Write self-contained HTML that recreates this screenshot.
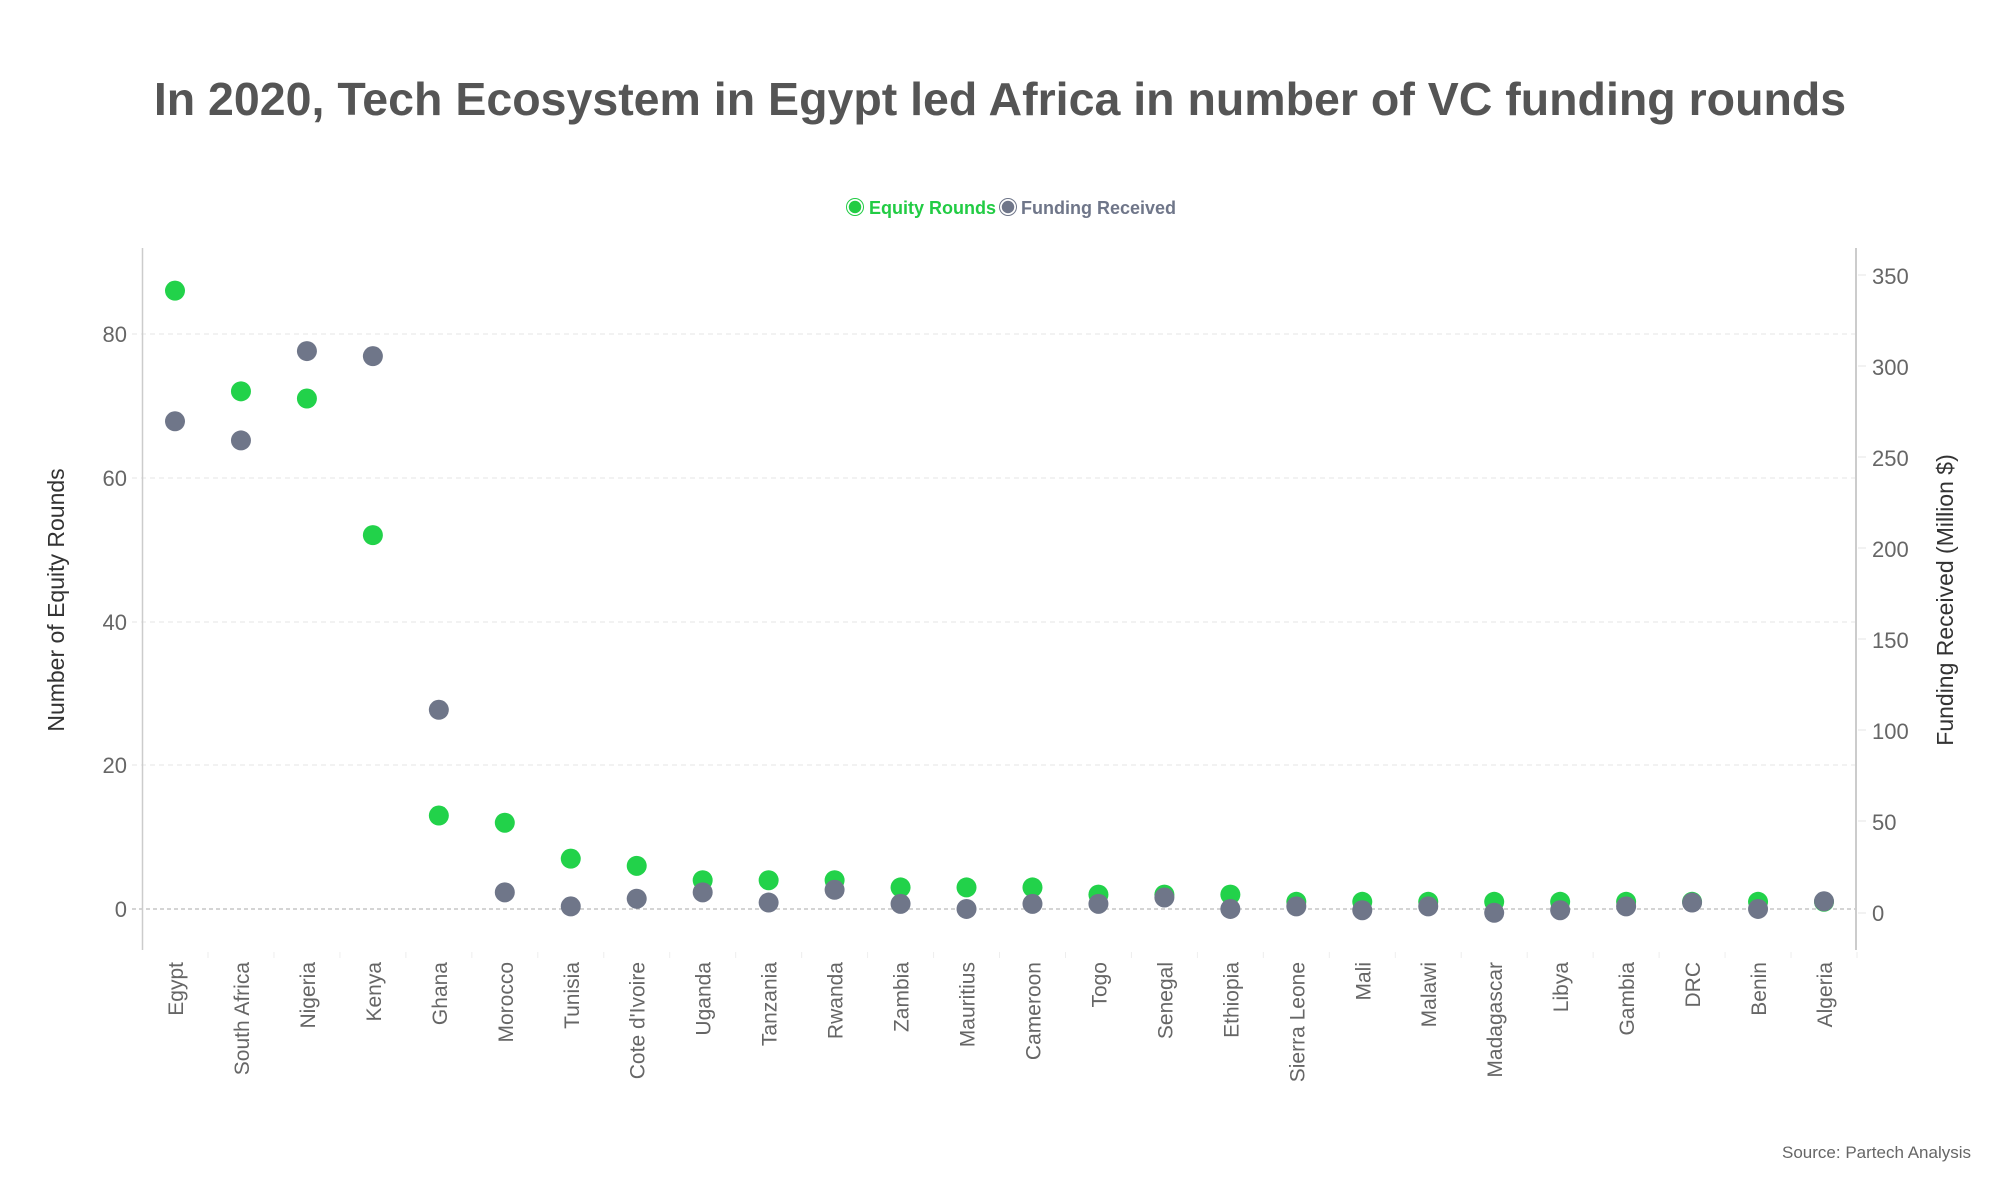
<!DOCTYPE html>
<html><head><meta charset="utf-8"><style>
html,body{margin:0;padding:0;background:#fff;}
svg{display:block;font-family:"Liberation Sans",sans-serif;}
</style></head><body>
<svg width="2000" height="1200" viewBox="0 0 2000 1200" xmlns="http://www.w3.org/2000/svg">
<text x="1000" y="115" text-anchor="middle" font-size="46.5" font-weight="bold" fill="#555">In 2020, Tech Ecosystem in Egypt led Africa in number of VC funding rounds</text>
<circle cx="855" cy="207" r="7" fill="#22cc44" stroke="#fff" stroke-width="1.5"/><circle cx="855" cy="207" r="8.5" fill="none" stroke="#22cc44" stroke-width="1"/>
<text x="869" y="214" font-size="18" font-weight="bold" fill="#22cc44">Equity Rounds</text>
<circle cx="1008" cy="207" r="7" fill="#6f7689" stroke="#fff" stroke-width="1.5"/><circle cx="1008" cy="207" r="8.5" fill="none" stroke="#6f7689" stroke-width="1"/>
<text x="1021" y="214" font-size="18" font-weight="bold" fill="#6f7689">Funding Received</text>
<g stroke="#e6e6e6" stroke-width="1" stroke-dasharray="5,4">
<line x1="132" x2="1856" y1="334" y2="334"/><line x1="132" x2="1856" y1="478" y2="478"/><line x1="132" x2="1856" y1="622" y2="622"/><line x1="132" x2="1856" y1="765" y2="765"/>
</g>
<line x1="132" x2="1856" y1="909" y2="909" stroke="#aaa" stroke-width="1" stroke-dasharray="4,3"/>
<line x1="142.5" x2="142.5" y1="248" y2="950" stroke="#ccc" stroke-width="1.5"/>
<line x1="1856" x2="1856" y1="248" y2="950" stroke="#ccc" stroke-width="2"/>
<g font-size="22" fill="#666" text-anchor="end">
<text x="127" y="342">80</text><text x="127" y="486">60</text><text x="127" y="630">40</text><text x="127" y="773">20</text><text x="127" y="917">0</text>
</g>
<g font-size="22" fill="#666">
<text x="1872" y="284">350</text><text x="1872" y="375">300</text><text x="1872" y="466">250</text><text x="1872" y="557">200</text><text x="1872" y="648">150</text><text x="1872" y="739">100</text><text x="1872" y="830">50</text><text x="1872" y="921">0</text>
</g>
<g stroke="#e6e6e6"><line x1="1858" x2="1866" y1="275" y2="275"/><line x1="1858" x2="1866" y1="366" y2="366"/><line x1="1858" x2="1866" y1="457" y2="457"/><line x1="1858" x2="1866" y1="548" y2="548"/><line x1="1858" x2="1866" y1="639" y2="639"/><line x1="1858" x2="1866" y1="730" y2="730"/><line x1="1858" x2="1866" y1="821" y2="821"/><line x1="1858" x2="1866" y1="913" y2="913"/></g>
<text transform="translate(64,600) rotate(-90)" text-anchor="middle" font-size="23" fill="#333">Number of Equity Rounds</text>
<text transform="translate(1953,600) rotate(-90)" text-anchor="middle" font-size="23" fill="#333">Funding Received (Million $)</text>
<text x="1971" y="1158" text-anchor="end" font-size="17" fill="#666">Source: Partech Analysis</text>
<g id="pts"></g>
<g id="lbl" font-size="21" fill="#666"></g>
</svg>
<script>
var names=["Egypt","South Africa","Nigeria","Kenya","Ghana","Morocco","Tunisia","Cote d'Ivoire","Uganda","Tanzania","Rwanda","Zambia","Mauritius","Cameroon","Togo","Senegal","Ethiopia","Sierra Leone","Mali","Malawi","Madagascar","Libya","Gambia","DRC","Benin","Algeria"];
var eq=[86,72,71,52,13,12,7,6,4,4,4,3,3,3,2,2,2,1,1,1,1,1,1,1,1,1];
var gy=[330,345,275,279,556,699,710,704,699,707,697,708,712,708,708,703,712,710,713,710,715,713,710,707,712,706];
var ns="http://www.w3.org/2000/svg",P=document.getElementById("pts"),L=document.getElementById("lbl");
function c(x,y,f){var e=document.createElementNS(ns,"circle");e.setAttribute("cx",x);e.setAttribute("cy",y);e.setAttribute("r",10);e.setAttribute("fill",f);P.appendChild(e);}
for(var i=0;i<26;i++){var x=175+i*65.96;
c(x,909-7.19*eq[i],"#22d24a");
c(x,gy[i]*1.2766,"#6f7689");
var t=document.createElementNS(ns,"text");t.setAttribute("transform","translate("+(x+8)+",962) rotate(-90)");t.setAttribute("text-anchor","end");t.textContent=names[i];L.appendChild(t);
var k=document.createElementNS(ns,"line");var tx=x+33;k.setAttribute("x1",tx);k.setAttribute("x2",tx);k.setAttribute("y1",952);k.setAttribute("y2",958);k.setAttribute("stroke","#eee");P.appendChild(k);}
</script>
</body></html>
